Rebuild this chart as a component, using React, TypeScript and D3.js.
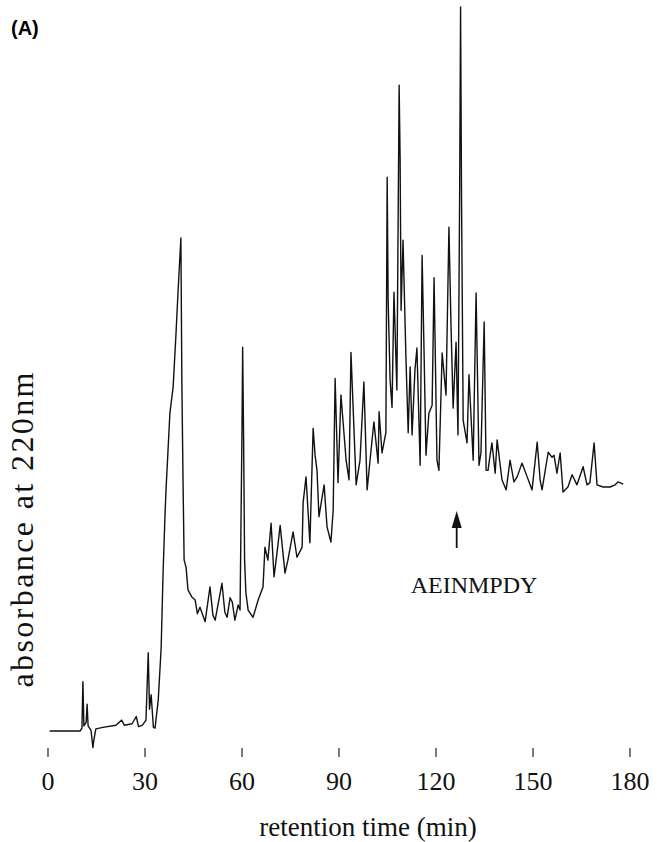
import React from 'react';
import * as d3 from 'd3';

// retention time (min), absorbance (arbitrary units, baseline = 0, tallest peak = 100)
const injectionRegion: [number, number][] = [
  [0.5, 0], [9.9, 0], [10.5, 0.4], [10.8, 6.8], [11.1, 0.7], [11.8, 1.2], [12.1, 3.7], [12.4, 0.7],
  [13.3, 0.1], [13.9, -2.3], [14.2, -1.2], [14.8, 0.3], [17, 0.5], [21, 0.8], [22.8, 1.5], [23.6, 0.8],
  [26, 1.0], [27.3, 2.0], [28.0, 0.6], [29.2, 0.8], [30.3, 1.5], [31.0, 10.8], [31.4, 3], [31.9, 5],
  [32.6, 0.5], [33.1, 0.4], [34.1, 4.3], [35.0, 11.5], [35.6, 22], [36.2, 30],
];

const mainPeak: [number, number][] = [
  [36.5, 33.3], [37.7, 43.9], [38.7, 47.5], [39.6, 55], [40.2, 60.5], [41.1, 68.1], [41.4, 48],
  [41.8, 33.3], [42.1, 23.6], [42.7, 22.6], [43.3, 19.5], [44.5, 18.5], [45.5, 18.1], [46.2, 16.2],
];

const gradientRegion: [number, number][] = [
  [47.0, 17.1], [48.6, 15.1], [50.1, 19.9], [51.0, 16.0], [51.7, 15.3], [53.8, 20.4], [54.7, 16.4],
  [55.4, 15.7], [56.3, 18.4], [57.0, 17.8], [57.8, 15.3], [58.8, 17.4], [59.4, 16.7], [60.0, 41.6],
  [60.2, 53.0], [60.5, 40.2], [60.8, 23.6], [61.2, 19.1], [61.9, 16.7], [63.4, 15.7], [65.0, 18.1],
  [66.5, 19.9], [67.1, 25.4], [68.0, 23.6], [69.0, 28.7], [69.9, 21.3], [70.8, 24.5], [71.8, 28.4],
  [73.3, 21.8], [74.2, 23.6], [75.8, 27.5], [77.0, 24.0], [78.6, 25.4], [78.9, 31.5], [79.8, 35.1],
  [81.0, 26.0], [82.0, 41.8], [82.6, 38.1], [83.2, 36.0], [83.8, 29.6], [85.4, 34.0], [86.3, 28.2],
  [87.5, 26.1], [88.2, 30.5], [88.8, 48.7], [89.7, 34.3], [90.6, 46.4], [92.2, 37.4], [93.1, 34.7],
  [93.7, 52.3], [95.3, 34.0], [96.5, 37.4], [97.7, 48.2], [98.7, 33.3], [99.6, 37.4], [100.8, 42.7],
  [102.1, 37.0], [102.4, 44.1], [103.3, 38.4], [104.5, 41.2],
];

const peptideRegion: [number, number][] = [
  [104.9, 76.5], [105.2, 59.5], [105.8, 48.5], [106.4, 44.7], [107.0, 60.6], [107.9, 47.1],
  [108.6, 89.2], [108.9, 79], [109.2, 58.1], [109.8, 67.8], [110.7, 51.6], [111.4, 41.2],
  [112.0, 50.3], [112.6, 40.9], [113.5, 49.9], [114.1, 52.9], [115.1, 36.7], [115.7, 65.7],
  [116.3, 52.5], [116.9, 38.1], [117.8, 43.9], [118.8, 45.0], [119.4, 62.6], [120.3, 37.4],
  [120.9, 36.0], [121.9, 52.2], [123.1, 46.4], [124.0, 69.6], [124.6, 56.8], [125.3, 44.6],
  [126.2, 53.7], [126.8, 40.9], [127.3, 73.3], [127.6, 100], [127.9, 73.3], [128.4, 42.9],
  [129.6, 39.8], [130.2, 49.2], [131.5, 37.4], [132.4, 60.5], [133.3, 36.7], [133.9, 38.4],
  [134.9, 56.5], [135.5, 36.0], [136.1, 36.0], [136.7, 38.0], [137.3, 39.8], [138.3, 35.6],
  [138.9, 40.2],
];

const lateRegion: [number, number][] = [
  [140.4, 34.7], [141.7, 33.3], [142.9, 37.4], [144.1, 34.4], [145.1, 35.1], [146.6, 37.0],
  [148.2, 35.1], [149.7, 33.3], [151.3, 39.9], [152.2, 34.7], [152.8, 33.3], [154.7, 38.5],
  [155.9, 37.8], [156.5, 38.1], [157.4, 35.6], [158.4, 38.4], [159.3, 33.0], [160.8, 33.7],
  [162.1, 35.4], [163.6, 34.0], [165.5, 36.5], [166.7, 34.0], [167.6, 34.3], [168.9, 39.8],
  [169.8, 34.0], [171.7, 33.7], [173.8, 33.7], [175.4, 34.0], [176.3, 34.4], [177.9, 34.1],
];

const trace = [...injectionRegion, ...mainPeak, ...gradientRegion, ...peptideRegion, ...lateRegion];

const timeTicks = [0, 30, 60, 90, 120, 150, 180];
const markedPeptide = { label: 'AEINMPDY', time: 126.4 };

const W = 657;
const H = 842;

export default function App() {
  const x = d3.scaleLinear().domain([0, 180]).range([48, 630]);
  const y = d3.scaleLinear().domain([0, 100]).range([731, 7]);

  const line = d3
    .line<[number, number]>()
    .x((d) => x(d[0]))
    .y((d) => y(d[1]));

  const serif = '"Liberation Serif", "DejaVu Serif", serif';
  const ax = x(markedPeptide.time);

  return (
    <svg width={W} height={H} style={{ position: 'absolute', left: 0, top: 0, background: '#fff' }}>
      <text x={11} y={35} fontFamily='"Liberation Sans", Arial, sans-serif' fontWeight="bold" fontSize={20}>
        (A)
      </text>

      <path d={line(trace) ?? ''} fill="none" stroke="#111" strokeWidth={1.4} strokeLinejoin="round" />

      {timeTicks.map((t) => (
        <g key={t} transform={`translate(${x(t)},0)`}>
          <line y1={748} y2={757} stroke="#222" strokeWidth={1.2} />
          <text y={790} textAnchor="middle" fontFamily={serif} fontSize={26} fill="#111">
            {t}
          </text>
        </g>
      ))}

      <text x={368} y={836} textAnchor="middle" fontFamily={serif} fontSize={27} fill="#111">
        retention time (min)
      </text>

      <text
        transform={`translate(33,530) rotate(-90)`}
        textAnchor="middle"
        fontFamily={serif}
        fontSize={32}
        textLength={315}
        lengthAdjust="spacing"
        fill="#111"
      >
        absorbance at 220nm
      </text>

      <line x1={ax} x2={ax} y1={524} y2={548} stroke="#111" strokeWidth={1.8} />
      <path d={`M${ax},511 L${ax - 5},528 L${ax + 5},528 Z`} fill="#111" />
      <text x={474} y={593} textAnchor="middle" fontFamily={serif} fontSize={24} fill="#111">
        {markedPeptide.label}
      </text>
    </svg>
  );
}
